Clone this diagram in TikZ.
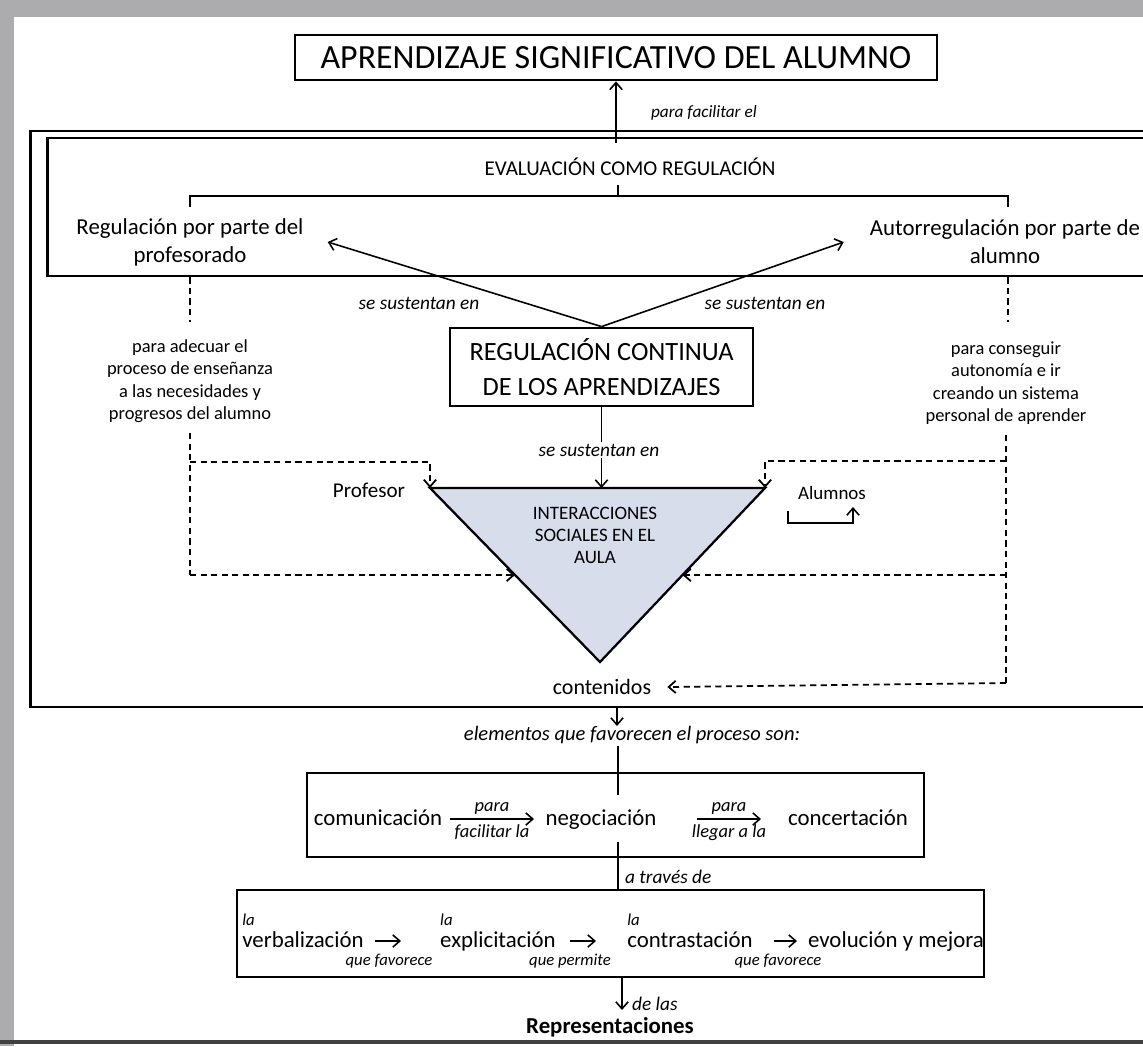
\documentclass[tikz,border=0pt]{standalone}
\usepackage{fontspec}
\setmainfont{Carlito}
\usepackage{tikz}
\usetikzlibrary{arrows.meta, positioning, calc}
\definecolor{triblue}{RGB}{216,221,236}
\definecolor{scangray}{RGB}{172,172,175}

\begin{document}
\begin{tikzpicture}[x=0.02cm, y=-0.02cm,
    >={Straight Barb[length=4pt,width=7pt]},
    frame/.style={draw, line width=1.6pt, inner sep=0pt},
    conn/.style={line width=0.9pt},
    dline/.style={line width=1pt, dash pattern=on 3.5pt off 2.5pt},
    note/.style={font=\fontsize{10.5}{12}\selectfont\itshape, inner sep=1pt},
    side/.style={font=\fontsize{10.5}{12.8}\selectfont, align=center, inner sep=1pt},
    word/.style={font=\fontsize{13}{16}\selectfont, inner sep=1pt, text height=9pt, text depth=3pt},
  ]
  \clip (0,0) rectangle (1143,1046);
  \fill[scangray] (0,0) rectangle (1143,17);
  \fill[scangray] (0,0) rectangle (14,1046);
  \draw[line width=2pt, black!75] (0,1042) -- (1143,1042);

  \node[frame, minimum width=12.84cm, minimum height=0.9cm, font=\fontsize{19.3}{23}\selectfont] (title) at (616,57.5) {APRENDIZAJE SIGNIFICATIVO DEL ALUMNO};
  \node[frame, minimum width=22.6cm, minimum height=11.52cm] (outer) at (595,419) {};
  \node[frame, minimum width=22.26cm, minimum height=2.76cm] (inner) at (603.5,207) {};

  \draw[conn, ->] ([yshift=-0.12cm]title.south |- inner.north) -- (title.south);
  \node[note, font=\fontsize{9.8}{12}\selectfont\itshape, anchor=west] (facil) at (649,113) {para facilitar el};

  \node[font=\fontsize{12}{14}\selectfont] (evaltxt) at (630,167) {EVALUACIÓN COMO REGULACIÓN};
  \coordinate (brl) at (190,207);
  \coordinate (brr) at (1008,207);
  \coordinate (brc) at (618,196);
  \draw[conn] (brl) -- (brl |- brc) -- (brr |- brc) -- (brr);
  \draw[conn] (brc) -- ++(0,-11);

  \node[font=\fontsize{13}{16}\selectfont, align=center] (regprof) at (190,242) {Regulación por parte del\\profesorado};
  \node[font=\fontsize{13}{16}\selectfont, align=center] (autoreg) at (1005,242) {Autorregulación por parte de\\alumno};

  \node[frame, minimum width=6.06cm, minimum height=1.56cm, align=center, font=\fontsize{15}{20}\selectfont] (regcont) at (601.5,367) {REGULACIÓN CONTINUA\\DE LOS APRENDIZAJES};
  \draw[conn, ->] (regcont.north) -- ([xshift=0.36cm]regprof.east);
  \draw[conn, ->] (regcont.north) -- ([xshift=-0.4cm]autoreg.west);
  \node[note, font=\fontsize{11}{12}\selectfont\itshape] (sustl) at (419,303) {se sustentan en};
  \node[note, font=\fontsize{11}{12}\selectfont\itshape] (sustr) at (765,303) {se sustentan en};

  \node[side] (adecuar) at (190,381) {para adecuar el\\proceso de enseñanza\\a las necesidades y\\progresos del alumno};
  \node[side] (conseguir) at (1006,383) {para conseguir\\autonomía e ir\\creando un sistema\\personal de aprender};
  \draw[dline] (brl |- inner.south) -- ++(0,45);
  \draw[dline] (brr |- inner.south) -- ++(0,45);

  \node[note, font=\fontsize{11}{12}\selectfont\itshape] (sustc) at (599,450) {se sustentan en};
  \draw[conn] (regcont.south) -- (regcont.south |- sustc.north);

  \coordinate (tl) at (430,488);
  \coordinate (tr) at (765,488);
  \coordinate (tb) at (600,662);
  \draw[line width=1.3pt, fill=triblue] (tl) -- (tr) -- (tb) -- cycle;
  \draw[conn, ->] (regcont.south |- sustc.south) -- (regcont.south |- tl);
  \node[font=\fontsize{10.8}{12.5}\selectfont, align=center] (inter) at (595,535) {INTERACCIONES\\SOCIALES EN EL\\AULA};
  \node[font=\fontsize{12}{14}\selectfont] (profesor) at (369,490) {Profesor};
  \node[font=\fontsize{10.8}{14}\selectfont] (alumnos) at (832,493) {Alumnos};
  \draw[conn, ->] (788,511) -- (788,523) -- (853,523) -- (853,507);

  \node[font=\fontsize{12.5}{14}\selectfont] (contenidos) at (602,687) {contenidos};

  \coordinate (ltop) at (190,433);
  \coordinate (lbot) at (190,575);
  \coordinate (rtop) at (1006,435);
  \coordinate (rbot) at (1006,683);
  \draw[dline] (ltop) -- (lbot);
  \draw[dline, ->] (190,462) -- (tl |- 0,462) -- (tl);
  \draw[dline, ->] (lbot) -- ($(tl)!0.5!(tb)$);
  \draw[dline] (rtop) -- (rbot);
  \draw[dline, ->] (1006,461) -- (tr |- 0,461) -- (tr);
  \draw[dline, ->] (1006,575) -- ($(tr)!0.5!(tb)$);
  \draw[dline, ->] (rbot) -- ([xshift=0.2cm]contenidos.east);

  \coordinate (outdown) at (617,707);
  \draw[conn, ->] (outdown) -- ++(0,19);
  \node[note, font=\fontsize{11.7}{13}\selectfont\itshape] (elem) at (632,735) {elementos que favorecen el proceso son:};

  \node[frame, minimum width=12.34cm, minimum height=1.68cm] (box2) at (615.5,815) {};
  \node[word] (comunic) at (378,820) {comunicación};
  \node[word] (negoc) at (601,820) {negociación};
  \node[word] (concert) at (848,820) {concertación};
  \draw[conn, ->] (450,819) -- (534,819)
    node[note, midway, above=1pt] (para1) {para}
    node[note, midway, below=2pt] (facil2) {facilitar la};
  \draw[conn, ->] (697,819) -- (761,819)
    node[note, midway, above=1pt] (para2) {para}
    node[note, midway, below=2pt] (llegar) {llegar a la};
  \coordinate (vline) at (618,0);
  \draw[conn] (vline |- elem.south) -- (vline |- 0,795);

  \node[frame, minimum width=14.94cm, minimum height=1.74cm] (box3) at (610.5,933.5) {};
  \draw[conn] (vline |- 0,842) -- (vline |- box3.north);
  \node[note, font=\fontsize{11}{12}\selectfont\itshape, anchor=west] (traves) at (623,877) {a través de};

  \node[word] (verb) at (303,942) {verbalización};
  \node[word] (expl) at (498,942) {explicitación};
  \node[word] (contr) at (690,942) {contrastación};
  \node[word] (evol) at (896,942) {evolución y mejora};
  \node[note, font=\fontsize{9.5}{11}\selectfont\itshape, anchor=south west] (la1) at ([yshift=1pt]verb.north west) {la};
  \node[note, font=\fontsize{9.5}{11}\selectfont\itshape, anchor=south west] (la2) at ([yshift=1pt]expl.north west) {la};
  \node[note, font=\fontsize{9.5}{11}\selectfont\itshape, anchor=south west] (la3) at ([yshift=1pt]contr.north west) {la};
  \draw[conn, ->] (375,941) -- (401,941);
  \draw[conn, ->] (570,941) -- (596,941);
  \draw[conn, ->] (774,941) -- (797,941);
  \node[note, font=\fontsize{9.5}{11}\selectfont\itshape] (fav1) at (389,961) {que favorece};
  \node[note, font=\fontsize{9.5}{11}\selectfont\itshape] (perm) at (570,961) {que permite};
  \node[note, font=\fontsize{9.5}{11}\selectfont\itshape] (fav2) at (778,961) {que favorece};

  \node[font=\fontsize{13}{15}\selectfont\bfseries] (repr) at (610,1027) {Representaciones};
  \coordinate (downarr) at (622,0);
  \draw[conn, ->] (downarr |- box3.south) -- (downarr |- 0,1010);
  \node[note, font=\fontsize{11}{12}\selectfont\itshape, anchor=west] (delas) at (630,1004) {de las};
\end{tikzpicture}
\end{document}
